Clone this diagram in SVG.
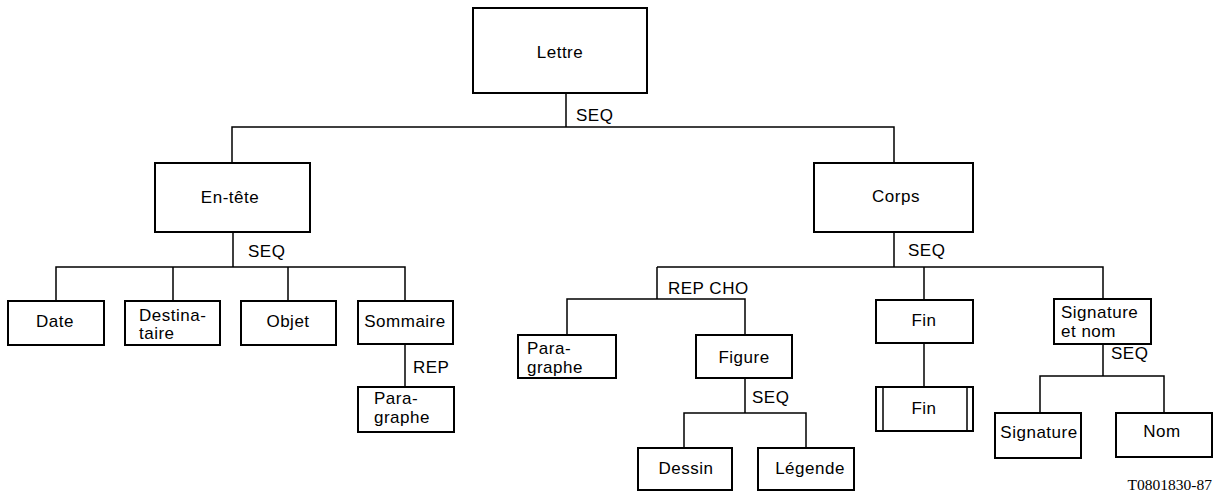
<svg xmlns="http://www.w3.org/2000/svg" width="1218" height="495" viewBox="0 0 1218 495">
<style>
.box{fill:#fff;stroke:#000;stroke-width:2}
.ln{fill:none;stroke:#000;stroke-width:1.5}
text{font-family:"Liberation Sans",Arial,sans-serif;font-size:17px;fill:#000;letter-spacing:0.5px}
.c{text-anchor:middle}
.ref{font-family:"Liberation Serif","Times New Roman",serif;font-size:15.5px;letter-spacing:0;text-anchor:end}
</style>
<rect width="1218" height="495" fill="#fff"/>
<g id="connectors">
<path class="ln" d="M566 93V127M232 163V127H894V163"/>
<path class="ln" d="M233 232V267M56 301V267H405V301M173 267V301M288 267V301"/>
<path class="ln" d="M405 344V387"/>
<path class="ln" d="M894 232V267M657 267H1103V299M657 267V299M567 335V299H745V335M924 267V300"/>
<path class="ln" d="M745 378V413M684 448V413H806V448"/>
<path class="ln" d="M924 343V387"/>
<path class="ln" d="M1103 344V376M1040 413V376H1164V413"/>
<text x="576" y="121">SEQ</text>
<text x="248" y="257">SEQ</text>
<text x="908" y="256">SEQ</text>
<text x="413" y="373">REP</text>
<text x="668" y="294">REP CHO</text>
<text x="752" y="403">SEQ</text>
<text x="1111" y="359">SEQ</text>
</g>
<g id="lettre"><rect class="box" x="473" y="8" width="174" height="85"/><text class="c" x="560" y="58">Lettre</text></g>
<g id="entete"><rect class="box" x="155" y="163" width="155" height="69"/><text class="c" x="230" y="203">En-tête</text></g>
<g id="corps"><rect class="box" x="814" y="163" width="159" height="69"/><text class="c" x="896" y="202">Corps</text></g>
<g id="date"><rect class="box" x="8" y="301" width="96" height="44"/><text class="c" x="55" y="327">Date</text></g>
<g id="destinataire"><rect class="box" x="125" y="301" width="95" height="44"/><text x="139" y="321">Destina-</text><text x="139" y="339">taire</text></g>
<g id="objet"><rect class="box" x="241" y="301" width="95" height="44"/><text class="c" x="288" y="327">Objet</text></g>
<g id="sommaire"><rect class="box" x="358" y="301" width="95" height="43"/><text class="c" x="405" y="327">Sommaire</text></g>
<g id="paragraphe1"><rect class="box" x="358" y="387" width="96" height="45"/><text x="374" y="404">Para-</text><text x="374" y="423">graphe</text></g>
<g id="paragraphe2"><rect class="box" x="518" y="335" width="98" height="43"/><text x="527" y="354">Para-</text><text x="527" y="373">graphe</text></g>
<g id="figure"><rect class="box" x="696" y="335" width="96" height="43"/><text class="c" x="744" y="363">Figure</text></g>
<g id="dessin"><rect class="box" x="638" y="448" width="94" height="42"/><text class="c" x="686" y="474">Dessin</text></g>
<g id="legende"><rect class="box" x="758" y="448" width="96" height="42"/><text class="c" x="810" y="474">Légende</text></g>
<g id="fin1"><rect class="box" x="876" y="300" width="97" height="43"/><text class="c" x="924" y="326">Fin</text></g>
<g id="fin2"><rect class="box" x="876" y="387" width="97" height="44"/><path class="ln" d="M883 387V431M967 387V431"/><text class="c" x="924" y="414">Fin</text></g>
<g id="signaturenom"><rect class="box" x="1054" y="299" width="97" height="45"/><text x="1061" y="318">Signature</text><text x="1061" y="337">et nom</text></g>
<g id="signature"><rect class="box" x="995" y="413" width="86" height="45"/><text class="c" x="1039" y="438">Signature</text></g>
<g id="nom"><rect class="box" x="1116" y="413" width="96" height="44"/><text class="c" x="1162" y="437">Nom</text></g>
<text class="ref" x="1212" y="490">T0801830-87</text>
</svg>
